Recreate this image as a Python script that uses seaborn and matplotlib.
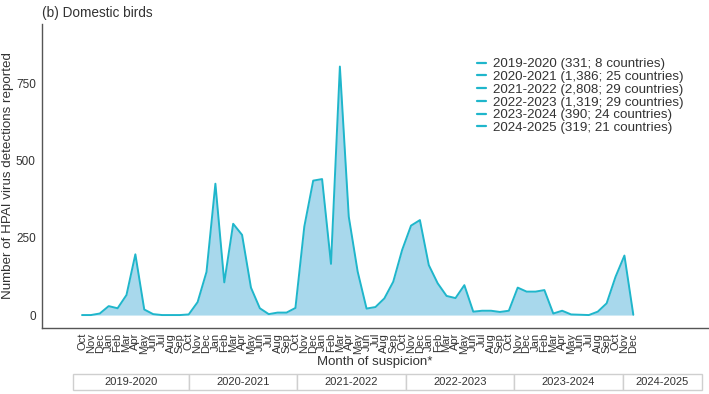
import numpy as np
import pandas as pd
import matplotlib
matplotlib.use("Agg")
import matplotlib.pyplot as plt
from matplotlib.lines import Line2D
import seaborn as sns

# monthly detections, Oct 2019 -> Dec 2024
MONTHS = ["Oct", "Nov", "Dec", "Jan", "Feb", "Mar", "Apr", "May", "Jun", "Jul", "Aug", "Sep"] * 5 + ["Oct", "Nov", "Dec"]
DETECTIONS = [
    0, 0, 5, 29, 22, 65, 197, 18, 3, 0, 0, 0,
    2, 42, 140, 426, 106, 296, 260, 89, 22, 3, 8, 8,
    23, 287, 436, 441, 166, 806, 319, 141, 21, 26, 54, 108,
    211, 290, 308, 162, 103, 62, 55, 97, 11, 14, 14, 10,
    14, 89, 76, 76, 81, 5, 14, 2, 1, 0, 11, 38,
    124, 193, 1,
]
SEASONS = ["2019-2020", "2020-2021", "2021-2022", "2022-2023", "2023-2024", "2024-2025"]
SEASON_TOTALS = [331, 1386, 2808, 1319, 390, 319]
SEASON_COUNTRIES = [8, 25, 29, 29, 24, 21]
Y_TICKS = [0, 250, 500, 750]

LINE_COLOR = "#1FB6CB"
FILL_COLOR = "#A8D8EC"
TEXT_COLOR = "#333333"
# widths of the season strip boxes under the axis (pixels in the reference)
SEASON_BOX_W = [116, 108, 109, 108, 109, 79]

sns.set_style("white")
plt.rcParams["font.family"] = ["Liberation Sans", "DejaVu Sans"]

df = pd.DataFrame({"idx": np.arange(len(DETECTIONS)), "n": DETECTIONS})

fig = plt.figure(figsize=(7.09, 3.94), dpi=100)
ax = fig.add_axes([42 / 709, 66 / 394, 666 / 709, 304 / 394])

ax.fill_between(df["idx"], 0, df["n"], color=FILL_COLOR, linewidth=0)
sns.lineplot(data=df, x="idx", y="n", ax=ax, color=LINE_COLOR, linewidth=1.4)

ax.set_xlim(-4.5, 70.4)
ax.set_ylim(-42, 944)
ax.set_yticks(Y_TICKS)
ax.set_yticklabels([str(v) for v in Y_TICKS], fontsize=8.5, color=TEXT_COLOR)
ax.set_xticks(df["idx"])
ax.set_xticklabels(MONTHS, rotation=90, fontsize=8, color=TEXT_COLOR, va="top", ha="center")
ax.tick_params(axis="both", length=2.5, width=0.8, color="#555555", pad=2)
ax.tick_params(axis="x", pad=1)

for side in ["top", "right"]:
    ax.spines[side].set_visible(False)
for side in ["left", "bottom"]:
    ax.spines[side].set_color("#555555")
    ax.spines[side].set_linewidth(1.0)

ax.set_ylabel("Number of HPAI virus detections reported", fontsize=9.6, color=TEXT_COLOR)
ax.yaxis.set_label_coords(-0.042, 0.5)
ax.set_xlabel("Month of suspicion*", fontsize=9.5, color=TEXT_COLOR, va="center")
ax.xaxis.set_label_coords(0.5, -0.112)

labels = [f"{s} ({t:,}; {c} countries)" for s, t, c in zip(SEASONS, SEASON_TOTALS, SEASON_COUNTRIES)]
handles = [Line2D([0], [0], color=LINE_COLOR, linewidth=1.6) for _ in SEASONS]
ax.legend(handles, labels, loc="upper left", bbox_to_anchor=(0.653, 0.888), frameon=False,
          fontsize=9.6, handlelength=0.7, handletextpad=0.5, labelspacing=0.03,
          labelcolor=TEXT_COLOR, borderaxespad=0, borderpad=0)

fig.text(42 / 709, 1 - 6 / 394, "(b) Domestic birds", fontsize=9.8, color=TEXT_COLOR, va="top", ha="left")

# season strip under the x axis
tab_ax = fig.add_axes([73 / 709, 4 / 394, 629 / 709, 16 / 394])
tab_ax.axis("off")
total_w = sum(SEASON_BOX_W)
table = tab_ax.table(cellText=[SEASONS], colWidths=[w / total_w for w in SEASON_BOX_W],
                     cellLoc="center", bbox=[0, 0, 1, 1])
table.auto_set_font_size(False)
for cell in table.get_celld().values():
    cell.set_edgecolor("#CFCFCF")
    cell.set_linewidth(1.0)
    cell.get_text().set_fontsize(8)
    cell.get_text().set_color(TEXT_COLOR)

fig.savefig("out.png", dpi=100)
